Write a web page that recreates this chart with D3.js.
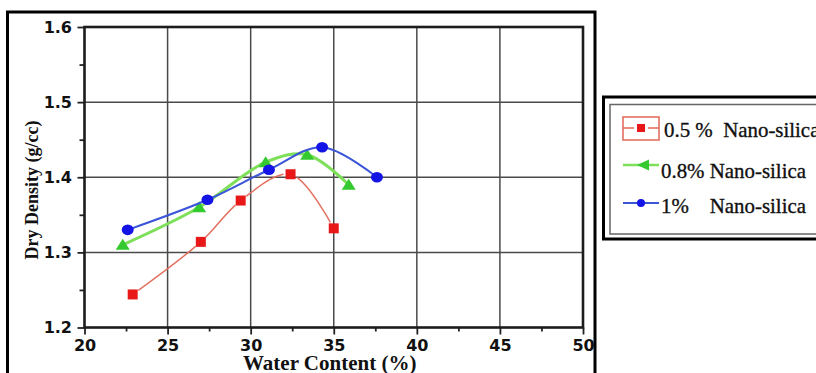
<!DOCTYPE html>
<html>
<head>
<meta charset="utf-8">
<script src="https://cdn.jsdelivr.net/npm/d3@7"></script>
<style>
  html, body { margin: 0; padding: 0; background: #fff; }
  svg { display: block; }
  .tick text { font-family: "DejaVu Sans", sans-serif; font-weight: bold; font-size: 16px; fill: #111; }
</style>
</head>
<body>
<svg id="chart" width="816" height="373"></svg>
<script>
// Water content (%) and dry density (g/cc) for each nano-silica dosage
const water05 = [22.9, 27.0, 29.4, 32.4, 35.0];
const density05 = [1.244, 1.314, 1.369, 1.404, 1.332];
const water08 = [22.3, 26.9, 30.9, 33.4, 35.9];
const density08 = [1.31, 1.36, 1.42, 1.43, 1.39];
const water10 = [22.6, 27.4, 31.1, 34.3, 37.6];
const density10 = [1.33, 1.37, 1.41, 1.44, 1.40];

const seriesNames = ["0.5 %  Nano-silica", "0.8% Nano-silica", "1%    Nano-silica"];

const xTicks = [20, 25, 30, 35, 40, 45, 50];
const xMinorTicks = [22.5, 27.5, 32.5, 37.5, 42.5, 47.5];
const yTicks = [1.2, 1.3, 1.4, 1.5, 1.6];
const yMinorTicks = [1.25, 1.35, 1.45, 1.55];

const series = [
  { name: seriesNames[0], xs: water05, ys: density05, line: "#e2705f", lw: 1.5, mark: "#e81818", shape: "square", gap: 7 },
  { name: seriesNames[1], xs: water08, ys: density08, line: "#7ee05a", lw: 3, mark: "#33c92f", shape: "triangle", gap: 0 },
  { name: seriesNames[2], xs: water10, ys: density10, line: "#3a55d8", lw: 2, mark: "#1414e6", shape: "circle", gap: 0 }
];

const svg = d3.select("#chart");
const plotLeft = 84.5, plotRight = 583, plotTop = 27, plotBottom = 327.5;

const x = d3.scaleLinear().domain([20, 50]).range([plotLeft, plotRight]);
const y = d3.scaleLinear().domain([1.2, 1.6]).range([plotBottom, plotTop]);

// outer figure frame
svg.append("rect")
  .attr("x", 7.5).attr("y", 12).attr("width", 587.5).attr("height", 420)
  .attr("fill", "none").attr("stroke", "#000").attr("stroke-width", 3);

// grid
const grid = svg.append("g").attr("stroke", "#4a4a4a").attr("stroke-width", 1.5);
grid.selectAll("line.gx").data(xTicks.slice(1, -1)).join("line")
  .attr("x1", d => x(d)).attr("x2", d => x(d)).attr("y1", plotTop).attr("y2", plotBottom);
grid.selectAll("line.gy").data(yTicks.slice(1, -1)).join("line")
  .attr("y1", d => y(d)).attr("y2", d => y(d)).attr("x1", plotLeft).attr("x2", plotRight);

// axes
const xAxis = svg.append("g").attr("transform", `translate(0,${plotBottom})`)
  .call(d3.axisBottom(x).tickValues(xTicks).tickSize(7).tickPadding(5.5).tickFormat(d3.format("d")));
const xMinor = svg.append("g").attr("transform", `translate(0,${plotBottom})`)
  .call(d3.axisBottom(x).tickValues(xMinorTicks).tickSize(4).tickFormat(""));
const yAxis = svg.append("g").attr("transform", `translate(${plotLeft},0)`)
  .call(d3.axisLeft(y).tickValues(yTicks).tickSize(7).tickPadding(5.5).tickFormat(d3.format(".1f")));
const yMinor = svg.append("g").attr("transform", `translate(${plotLeft},0)`)
  .call(d3.axisLeft(y).tickValues(yMinorTicks).tickSize(5).tickFormat(""));
[xAxis, xMinor, yAxis, yMinor].forEach(g => {
  g.select(".domain").remove();
  g.selectAll(".tick line").attr("stroke", "#222").attr("stroke-width", 1.8);
});

// plot frame
svg.append("rect")
  .attr("x", plotLeft).attr("y", plotTop).attr("width", plotRight - plotLeft).attr("height", plotBottom - plotTop)
  .attr("fill", "none").attr("stroke", "#1c1c1c").attr("stroke-width", 2.6);

// axis titles
svg.append("text")
  .attr("x", 243).attr("y", 370)
  .attr("font-family", "'Liberation Serif', serif").attr("font-weight", "bold").attr("font-size", 21)
  .attr("fill", "#111")
  .text("Water Content (%)");
svg.append("text")
  .attr("transform", "translate(38,190) rotate(-90)")
  .attr("text-anchor", "middle")
  .attr("font-family", "'Liberation Serif', serif").attr("font-weight", "bold").attr("font-size", 18)
  .attr("fill", "#111")
  .text("Dry Density (g/cc)");

// curves and markers
const line = d3.line().x(d => x(d[0])).y(d => y(d[1])).curve(d3.curveCatmullRom.alpha(0.5));
const defs = svg.append("defs");

function drawMarker(g, shape, color, cx, cy) {
  if (shape === "square") {
    g.append("rect").attr("x", cx - 5).attr("y", cy - 5).attr("width", 10).attr("height", 10).attr("fill", color);
  } else if (shape === "triangle") {
    g.append("path").attr("d", `M${cx},${cy - 6}L${cx + 7},${cy + 5}L${cx - 7},${cy + 5}Z`).attr("fill", color);
  } else if (shape === "circle") {
    g.append("ellipse").attr("cx", cx).attr("cy", cy).attr("rx", 6).attr("ry", 5.3).attr("fill", color);
  } else if (shape === "leftTriangle") {
    g.append("path").attr("d", `M${cx - 6},${cy}L${cx + 6},${cy - 5.5}L${cx + 6},${cy + 5.5}Z`).attr("fill", color);
  }
}

series.forEach((s, i) => {
  const pts = s.xs.map((v, k) => [v, s.ys[k]]);
  const path = svg.append("path")
    .attr("d", line(pts))
    .attr("fill", "none").attr("stroke", s.line).attr("stroke-width", s.lw)
    .attr("stroke-linecap", "round");
  if (s.gap > 0) {
    const m = defs.append("mask").attr("id", "gap" + i).attr("maskUnits", "userSpaceOnUse")
      .attr("x", 0).attr("y", 0).attr("width", 816).attr("height", 373);
    m.append("rect").attr("width", 816).attr("height", 373).attr("fill", "#fff");
    pts.forEach(p => m.append("circle").attr("cx", x(p[0])).attr("cy", y(p[1])).attr("r", s.gap).attr("fill", "#000"));
    path.attr("mask", `url(#gap${i})`);
  }
  const g = svg.append("g");
  pts.forEach(p => drawMarker(g, s.shape, s.mark, x(p[0]), y(p[1])));
});

// legend
svg.append("rect").attr("x", 603.5).attr("y", 97).attr("width", 300).attr("height", 142)
  .attr("fill", "#fff").attr("stroke", "#000").attr("stroke-width", 3);
svg.append("rect").attr("x", 610).attr("y", 104.5).attr("width", 300).attr("height", 129.5)
  .attr("fill", "none").attr("stroke", "#666").attr("stroke-width", 1.5);

const rowY = [128, 165, 203];
const textY = [137, 178, 213];
const textX = [664, 661, 661];
const lx0 = 623, lx1 = 659, lxm = 641;
series.forEach((s, i) => {
  const g = svg.append("g");
  const cy = rowY[i];
  if (i === 0) {
    g.append("rect").attr("x", lx0).attr("y", cy - 11).attr("width", lx1 - lx0).attr("height", 23)
      .attr("fill", "none").attr("stroke", s.line).attr("stroke-width", 1.6);
    g.append("line").attr("x1", lx0).attr("x2", lxm - 7).attr("y1", cy).attr("y2", cy).attr("stroke", s.line).attr("stroke-width", 1.6);
    g.append("line").attr("x1", lxm + 7).attr("x2", lx1).attr("y1", cy).attr("y2", cy).attr("stroke", s.line).attr("stroke-width", 1.6);
    g.append("rect").attr("x", lxm - 4).attr("y", cy - 4).attr("width", 8).attr("height", 8).attr("fill", s.mark);
  } else {
    g.append("line").attr("x1", lx0).attr("x2", lx1).attr("y1", cy).attr("y2", cy)
      .attr("stroke", s.line).attr("stroke-width", s.lw === 3 ? 2.6 : 1.8);
    if (i === 1) drawMarker(g, "leftTriangle", s.mark, lxm + 2, cy);
    else g.append("circle").attr("cx", lxm).attr("cy", cy).attr("r", 4).attr("fill", s.mark);
  }
  g.append("text")
    .attr("transform", `translate(${textX[i]},${textY[i]}) scale(0.95,1)`)
    .attr("font-family", "'Liberation Serif', serif").attr("font-size", 22)
    .attr("fill", "#111").attr("stroke", "#111").attr("stroke-width", 0.35)
    .style("white-space", "pre")
    .text(s.name);
});
</script>
</body>
</html>
